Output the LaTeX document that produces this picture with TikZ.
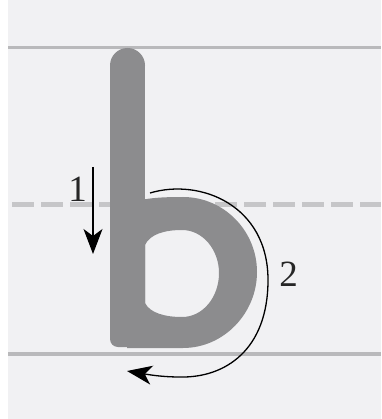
\documentclass[tikz,border=0pt]{standalone}
\usepackage{fontspec}
\setmainfont{Liberation Serif}
\usetikzlibrary{arrows.meta}
\definecolor{bgc}{HTML}{F1F1F3}
\definecolor{rulec}{HTML}{B9B9BB}
\definecolor{dashc}{HTML}{C6C6C8}
\definecolor{letterc}{HTML}{8C8C8E}
\tikzset{
  rule/.style={draw=rulec, line width=3.5pt},
  midrule/.style={draw=dashc, line width=5pt, dash pattern=on 22pt off 7pt},
  letter/.style={fill=letterc},
  stroke/.style={draw=black, line width=1.3pt, -{Stealth[length=25pt,width=19pt,inset=7pt]}},
  num/.style={font=\fontsize{37}{37}\selectfont, inner sep=0pt, text=black!85}
}
\begin{document}
\begin{tikzpicture}[x=1pt,y=-1pt]
\useasboundingbox (0,0) rectangle (381,419);
\fill[white] (0,0) rectangle (381,419);
\fill[bgc] (8,0) rectangle (381,419);
% guide lines
\coordinate (topL) at (8,47.5);   \coordinate (topR) at (381,47.5);
\coordinate (midL) at (12,205);   \coordinate (midR) at (381,205);
\coordinate (botL) at (8,354);    \coordinate (botR) at (381,354);
\draw[rule] (topL) -- (topR);
\draw[midrule] (midL) -- (midR);
\draw[rule] (botL) -- (botR);
% letter b : bowl
\fill[letter, even odd rule]
  (127,205) .. controls (140,198) and (160,197) .. (183,197)
  .. controls (224,197) and (257,231) .. (257,272)
  .. controls (257,313) and (224,348) .. (183,348)
  -- (127,348) -- cycle
  (145,245) .. controls (150,234) and (165,230) .. (182,230)
  .. controls (203,230) and (219,250) .. (219,273)
  .. controls (219,297) and (203,317) .. (182,317)
  .. controls (165,317) and (150,313) .. (145,303) -- cycle;
% letter b : stem
\fill[letter] (127.5,65.5) circle[radius=17.5];
\fill[letter] (110,65.5) rectangle (145,300);
\fill[letter, rounded corners=8pt] (110,200) rectangle (145,347);
% stroke 1
\coordinate (s1a) at (93,167);
\coordinate (s1b) at (93,254);
\draw[stroke] (s1a) -- (s1b);
\node[num] (n1) at (77.5,189.5) {1};
% stroke 2
\coordinate (s2a) at (150,193);
\coordinate (s2r) at (268,280);
\coordinate (s2b) at (180,377);
\coordinate (s2e) at (127,371);
\draw[stroke] (s2a) .. controls (200,178) and (268,205) .. (s2r)
  .. controls (268,350) and (225,378) .. (s2b)
  .. controls (160,377) and (145,374) .. (s2e);
\node[num] (n2) at (288.5,274.5) {2};
\end{tikzpicture}
\end{document}
